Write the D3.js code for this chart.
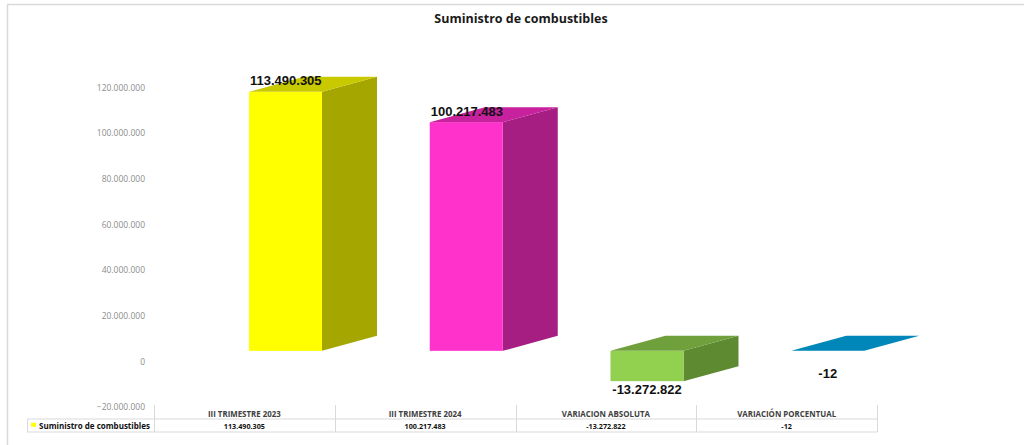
<!DOCTYPE html>
<html>
<head>
<meta charset="utf-8">
<script src="https://cdn.jsdelivr.net/npm/d3@7"></script>
<style>
  body { margin: 0; background: #fff; }
  svg { display: block; }
  .tick text { font-family: "Open Sans", sans-serif; fill: #8c8c8c; }
</style>
</head>
<body>
<svg id="chart" width="1024" height="445"></svg>
<script>
// Chart data
const categories = ["III TRIMESTRE 2023", "III TRIMESTRE 2024", "VARIACION ABSOLUTA", "VARIACIÓN PORCENTUAL"];
const values = [113490305, 100217483, -13272822, -12];
const valueLabels = ["113.490.305", "100.217.483", "-13.272.822", "-12"];
const yTicks = [-20000000, 0, 20000000, 40000000, 60000000, 80000000, 100000000, 120000000];
const seriesName = "Suministro de combustibles";

// colours per bar: front, side, top
const barColors = [
    { front: "#ffff00", side: "#a6a600", top: "#c9c900" },
    { front: "#ff33cc", side: "#a61e82", top: "#c7219e" },
    { front: "#92d050", side: "#5e8a32", top: "#6fa03c" },
    { front: "#00a0dc", side: "#006f99", top: "#0087ba" }
];

const svg = d3.select("#chart");

// outer chart frame (top and left edges visible)
svg.append("line").attr("x1", 7).attr("x2", 1024).attr("y1", 4.5).attr("y2", 4.5)
   .attr("stroke", "#d9d9d9").attr("stroke-width", 1.5);
svg.append("line").attr("x1", 7.5).attr("x2", 7.5).attr("y1", 4).attr("y2", 445)
   .attr("stroke", "#d9d9d9").attr("stroke-width", 1.5);

// Title
svg.append("text")
   .attr("x", 521).attr("y", 23)
   .attr("text-anchor", "middle")
   .attr("font-family", "'Open Sans', sans-serif")
   .attr("font-weight", "bold")
   .attr("font-size", "12.5px")
   .attr("fill", "#1a1a1a")
   .text(seriesName);

// Scales
const x = d3.scaleBand()
            .domain(categories)
            .range([154, 877])
            .padding(0);

const y = d3.scaleLinear()
            .domain([-20000000, 120000000])
            .range([407, 87.5]);

// 3D geometry
const depthX = 55, depthY = -15, frontOffset = 95, frontWidth = 73, floorShift = -10.5;
const yb = v => y(v) + floorShift;

// Y axis (labels only)
svg.append("g")
   .attr("transform", "translate(145,0)")
   .call(d3.axisLeft(y).tickValues(yTicks).tickSize(0).tickPadding(0)
           .tickFormat(d => d3.format(",")(d).replace(/,/g, ".")))
   .call(g => g.select(".domain").remove())
   .selectAll("text")
   .attr("font-size", "8.5px");

// Bars
const bars = svg.append("g");
categories.forEach((c, i) => {
    const v = values[i];
    const col = barColors[i];
    const x0 = x(c) + frontOffset, x1 = x0 + frontWidth;
    const top = Math.min(yb(v), yb(0)), bottom = Math.max(yb(v), yb(0));

    if (bottom - top > 0.5) {
        // side face
        bars.append("polygon")
            .attr("points", [[x1, top], [x1 + depthX, top + depthY], [x1 + depthX, bottom + depthY], [x1, bottom]].join(" "))
            .attr("fill", col.side);
        // front face
        bars.append("rect")
            .attr("x", x0).attr("y", top)
            .attr("width", frontWidth).attr("height", bottom - top)
            .attr("fill", col.front);
    }
    // top face
    bars.append("polygon")
        .attr("points", [[x0, top], [x1, top], [x1 + depthX, top + depthY], [x0 + depthX, top + depthY]].join(" "))
        .attr("fill", col.top);

    // data label
    const lbl = bars.append("text")
        .attr("font-family", "'Liberation Sans', Arial, sans-serif")
        .attr("font-weight", "bold")
        .attr("font-size", "13px")
        .attr("fill", "#111")
        .text(valueLabels[i]);
    if (v >= 0) {
        lbl.attr("x", x0 + 1).attr("y", top - 6.5);
    } else {
        lbl.attr("x", x0 + frontWidth / 2).attr("text-anchor", "middle")
           .attr("y", Math.max(bottom + 12.5, yb(0) + 27));
    }
});

// Data table
const table = svg.append("g");
const gridColor = "#d9d9d9";
const tLeft = 27, tRight = 877, hTop = 405, rowMid = 419, rowBottom = 432;

table.append("line").attr("x1", tLeft).attr("x2", tRight).attr("y1", rowMid).attr("y2", rowMid)
     .attr("stroke", gridColor);
table.append("line").attr("x1", tLeft).attr("x2", tRight).attr("y1", rowBottom).attr("y2", rowBottom)
     .attr("stroke", gridColor);
table.append("line").attr("x1", tLeft + 0.5).attr("x2", tLeft + 0.5).attr("y1", rowMid).attr("y2", rowBottom)
     .attr("stroke", gridColor);

const colEdges = categories.map(c => x(c)).concat([x.range()[1]]);
colEdges.forEach(e => {
    table.append("line")
         .attr("x1", Math.round(e) + 0.5).attr("x2", Math.round(e) + 0.5)
         .attr("y1", hTop).attr("y2", rowBottom)
         .attr("stroke", gridColor);
});

categories.forEach((c, i) => {
    const cx = x(c) + x.bandwidth() / 2;
    table.append("text")
         .attr("x", cx).attr("y", 416.5)
         .attr("text-anchor", "middle")
         .attr("font-family", "'Open Sans', sans-serif")
         .attr("font-weight", "bold")
         .attr("font-size", "7.9px")
         .attr("fill", "#404040")
         .text(c);
    table.append("text")
         .attr("x", cx).attr("y", 428.5)
         .attr("text-anchor", "middle")
         .attr("font-family", "'Open Sans', sans-serif")
         .attr("font-weight", "bold")
         .attr("font-size", "7.2px")
         .attr("fill", "#111")
         .text(valueLabels[i]);
});

// Legend key in table
table.append("rect")
     .attr("x", 31).attr("y", 422.8).attr("width", 5).attr("height", 4)
     .attr("fill", barColors[0].front);
table.append("text")
     .attr("x", 39).attr("y", 428.5)
     .attr("font-family", "'Open Sans', sans-serif")
     .attr("font-weight", "bold")
     .attr("font-size", "8px")
     .attr("fill", "#111")
     .text(seriesName);
</script>
</body>
</html>
